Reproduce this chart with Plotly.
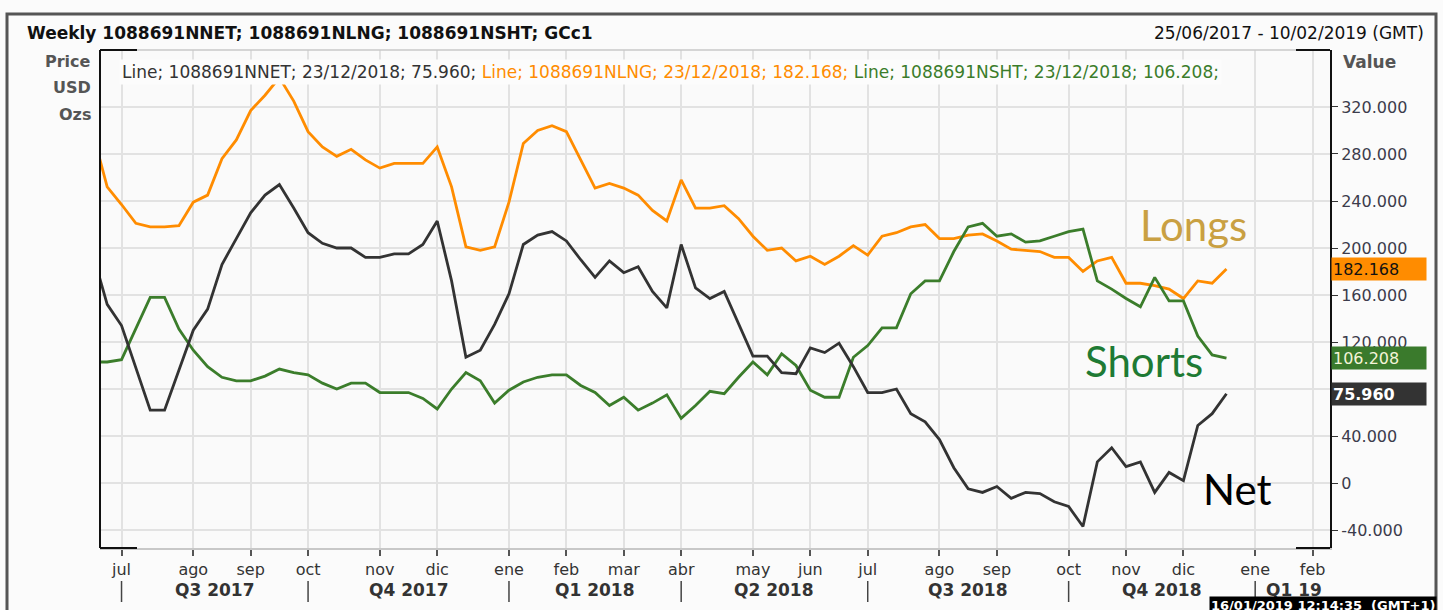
import plotly.graph_objects as go
import pandas as pd

# ---------------- data (weekly, Sundays) ----------------
dates = pd.date_range('2017-06-18', periods=80, freq='7D')

longs = [298,
         252, 237, 221, 218, 218, 219, 239, 245, 276, 292, 317, 330, 345, 325, 299, 286, 278, 284, 275, 268,
         272, 272, 272, 286, 252, 201, 198, 201, 239, 289, 300, 304, 299, 275, 251, 255, 251, 245, 232, 223,
         258, 234, 234, 236, 225, 210, 198, 200, 189, 193, 186, 193, 202, 194, 210, 213, 218, 220, 208, 208,
         211, 212, 206, 199, 198, 197, 192, 192, 180, 189, 192, 170, 170, 168, 165, 157, 172, 170, 182.168]

shorts = [103,
          103, 105, 131, 158, 158, 131, 113, 99, 90, 87, 87, 91, 97, 94, 92, 85, 80, 85, 85, 77,
          77, 77, 72, 63, 80, 94, 87, 68, 79, 86, 90, 92, 92, 83, 77, 66, 73, 62, 68, 75,
          55, 66, 78, 76, 90, 103, 92, 110, 100, 79, 73, 73, 107, 117, 132, 132, 161, 172, 172, 197,
          218, 221, 210, 212, 205, 206, 210, 214, 216, 172, 165, 157, 150, 175, 155, 155, 125, 109, 106.208]

net = [195,
       152, 134, 97, 62, 62, 96, 130, 148, 186, 208, 230, 245, 254, 234, 213, 204, 200, 200, 192, 192,
       195, 195, 203, 223, 172, 107, 113, 135, 161, 203, 211, 214, 206, 190, 175, 189, 179, 184, 163, 149,
       203, 166, 157, 163, 135, 108, 108, 94, 93, 115, 111, 119, 99, 77, 77, 80, 59, 52, 37, 13,
       -5, -8, -3, -13, -8, -9, -16, -20, -37, 18, 30, 14, 18, -8, 9, 2, 49, 59, 75.96]

month_ticks = ['2017-07-02', '2017-08-06', '2017-09-03', '2017-10-01', '2017-11-05', '2017-12-03',
               '2018-01-07', '2018-02-04', '2018-03-04', '2018-04-01', '2018-05-06', '2018-06-03',
               '2018-07-01', '2018-08-05', '2018-09-02', '2018-10-07', '2018-11-04', '2018-12-02',
               '2019-01-06', '2019-02-03']
month_labels = ['jul', 'ago', 'sep', 'oct', 'nov', 'dic', 'ene', 'feb', 'mar', 'abr', 'may', 'jun',
                'jul', 'ago', 'sep', 'oct', 'nov', 'dic', 'ene', 'feb']

quarter_bounds = ['2017-07-02', '2017-10-01', '2018-01-07', '2018-04-01', '2018-07-01',
                  '2018-10-07', '2019-01-06']
quarter_labels = ['Q3 2017', 'Q4 2017', 'Q1 2018', 'Q2 2018', 'Q3 2018', 'Q4 2018', 'Q1 19']

y_ticks = [-40, 0, 40, 80, 120, 160, 200, 240, 280, 320]
y_tick_text = ['-40.000', '0', '40.000', '80.000', '120.000', '160.000', '200.000',
               '240.000', '280.000', '320.000']

last_date = '23/12/2018'
C_NET, C_LNG, C_SHT = '#333333', '#ff8c00', '#3b7d2b'

# ---------------- geometry helpers ----------------
W, H = 1443, 610
ML, MR, MT, MB = 100, 113, 50, 62
PW, PH = W - ML - MR, H - MT - MB


def px(x):
    return (x - ML) / PW


def py(y):
    return (H - MB - y) / PH


FONT = 'DejaVu Sans'

fig = go.Figure()
fig.add_trace(go.Scatter(x=dates, y=longs, mode='lines', line=dict(color=C_LNG, width=2.8),
                         name='1088691NLNG'))
fig.add_trace(go.Scatter(x=dates, y=shorts, mode='lines', line=dict(color=C_SHT, width=2.8),
                         name='1088691NSHT'))
fig.add_trace(go.Scatter(x=dates, y=net, mode='lines', line=dict(color=C_NET, width=2.8),
                         name='1088691NNET'))

ann = []
ann.append(dict(xref='paper', yref='paper', x=px(25), y=py(33), xanchor='left', yanchor='middle',
                text='<b>Weekly 1088691NNET; 1088691NLNG; 1088691NSHT; GCc1</b>', showarrow=False,
                font=dict(family=FONT, size=17, color='#111111')))
ann.append(dict(xref='paper', yref='paper', x=px(1426), y=py(33), xanchor='right', yanchor='middle',
                text='25/06/2017 - 10/02/2019 (GMT)', showarrow=False,
                font=dict(family=FONT, size=17, color='#111111')))
legend_txt = (f'<span style="color:{C_NET}">Line; 1088691NNET; {last_date}; {net[-1]:.3f}; </span>'
              f'<span style="color:{C_LNG}">Line; 1088691NLNG; {last_date}; {longs[-1]:.3f}; </span>'
              f'<span style="color:{C_SHT}">Line; 1088691NSHT; {last_date}; {shorts[-1]:.3f};</span>')
ann.append(dict(xref='paper', yref='paper', x=px(119), y=py(72), xanchor='left', yanchor='middle',
                text=legend_txt, showarrow=False, bgcolor='#fcfcfc', borderpad=2,
                font=dict(family=FONT, size=17, color=C_NET)))
for t, yy in [('Price', 62), ('USD', 88), ('Ozs', 114)]:
    ann.append(dict(xref='paper', yref='paper', x=px(93), y=py(yy), xanchor='right', yanchor='middle',
                    text=f'<b>{t}</b>', showarrow=False, font=dict(family=FONT, size=16, color='#555555')))
ann.append(dict(xref='paper', yref='paper', x=px(1341), y=py(62), xanchor='left', yanchor='middle',
                text='<b>Value</b>', showarrow=False, font=dict(family=FONT, size=17, color='#555555')))

# value flags on the right axis
for val, bg, fc, bold in [(longs[-1], C_LNG, '#111111', False),
                          (shorts[-1], '#3a7a2c', '#f4f4d8', False),
                          (net[-1], '#333333', '#ffffff', True)]:
    s = f'{val:.3f}'
    ann.append(dict(xref='paper', yref='y', x=px(1331), y=val, xanchor='left', yanchor='middle',
                    text=f'<b>{s}</b>' if bold else s, showarrow=False, bgcolor=bg, width=92, height=20,
                    align='left', borderpad=1, font=dict(family=FONT, size=16, color=fc)))

# series name labels
ann.append(dict(xref='paper', yref='paper', x=px(1138), y=py(225), xanchor='left', yanchor='middle',
                text='Longs', showarrow=False, font=dict(family='Lato', size=42, color='#c9a042')))
ann.append(dict(xref='paper', yref='paper', x=px(1083), y=py(361), xanchor='left', yanchor='middle',
                text='Shorts', showarrow=False, font=dict(family='Lato', size=42, color='#1e7a34')))
ann.append(dict(xref='paper', yref='paper', x=px(1201), y=py(489), xanchor='left', yanchor='middle',
                text='Net', showarrow=False, font=dict(family='Lato', size=42, color='#000000')))

# quarter labels
qb = pd.to_datetime(quarter_bounds)
for i, lab in enumerate(quarter_labels):
    if i < len(qb) - 1:
        mid = qb[i] + (qb[i + 1] - qb[i]) / 2
        ann.append(dict(xref='x', yref='paper', x=mid, y=py(590), xanchor='center', yanchor='middle',
                        text=f'<b>{lab}</b>', showarrow=False,
                        font=dict(family=FONT, size=17, color='#333333')))
    else:
        ann.append(dict(xref='paper', yref='paper', x=px(1264), y=py(590), xanchor='left', yanchor='middle',
                        text=f'<b>{lab}</b>', showarrow=False,
                        font=dict(family=FONT, size=17, color='#333333')))

ann.append(dict(xref='paper', yref='paper', x=px(1437), y=py(596), xanchor='right', yanchor='top',
                text='<b>16/01/2019 12:14:35  (GMT+1)</b>', showarrow=False, bgcolor='#000000',
                borderpad=1, font=dict(family=FONT, size=13, color='#ffffff')))

shapes = []
# quarter separators
for d in quarter_bounds:
    shapes.append(dict(type='line', xref='x', yref='paper', x0=d, x1=d, y0=py(581), y1=py(602),
                       line=dict(color='#444444', width=1.5)))
# plot frame: grey top/bottom, black left/right and corners
shapes.append(dict(type='line', xref='paper', yref='paper', x0=0, x1=1, y0=1, y1=1,
                   line=dict(color='#c8c8c8', width=1.5)))
shapes.append(dict(type='line', xref='paper', yref='paper', x0=0, x1=0, y0=0, y1=1,
                   line=dict(color='#111111', width=2)))
for (a, b, yv) in [(100, 137, 548), (100, 137, 50), (1296, 1330, 548), (1296, 1330, 50)]:
    shapes.append(dict(type='line', xref='paper', yref='paper', x0=px(a), x1=px(b), y0=py(yv), y1=py(yv),
                       line=dict(color='#111111', width=2)))
# outer frame
shapes.append(dict(type='rect', xref='paper', yref='paper', x0=px(7), x1=px(1436), y0=py(640), y1=py(14),
                   line=dict(color='#555555', width=3), fillcolor='rgba(0,0,0,0)'))

fig.update_layout(
    width=W, height=H, margin=dict(l=ML, r=MR, t=MT, b=MB),
    paper_bgcolor='#fbfbfb', plot_bgcolor='#fafafa', showlegend=False,
    annotations=ann, shapes=shapes,
    xaxis=dict(type='date', range=['2017-06-21 12:00', '2019-02-11 12:00'],
               tickmode='array', tickvals=month_ticks, ticktext=month_labels,
               ticks='outside', ticklen=6, tickcolor='#555555', tickwidth=1.5,
               showline=True, linecolor='#c8c8c8', linewidth=1.5,
               showgrid=True, gridcolor='#e2e2e2', gridwidth=1.5, zeroline=False,
               tickfont=dict(family=FONT, size=16, color='#333333')),
    yaxis=dict(side='right', range=[-55.3, 368.5], tickmode='array', tickvals=y_ticks,
               ticktext=y_tick_text, ticks='outside', ticklen=6, tickcolor='#333333',
               showline=True, linecolor='#111111', linewidth=2,
               showgrid=True, gridcolor='#e2e2e2', gridwidth=1.5, zeroline=False,
               tickfont=dict(family=FONT, size=16, color='#3c3c4c')),
)

fig.write_html('out.html', config={'displayModeBar': False},
               post_script="document.body.style.margin='0px';document.body.style.overflow='hidden';")
